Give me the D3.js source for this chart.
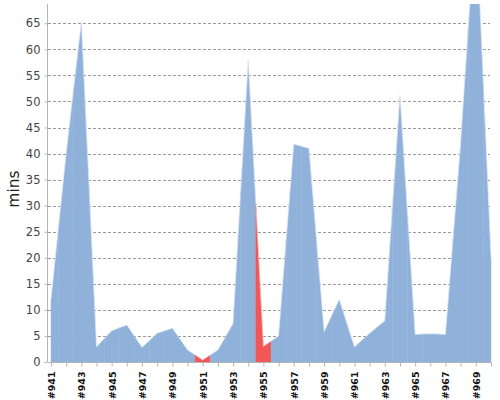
<!DOCTYPE html>
<html>
<head>
<meta charset="utf-8">
<script src="https://cdn.jsdelivr.net/npm/d3@7"></script>
<style>
  html, body { margin: 0; padding: 0; background: #fff; }
  svg { display: block; }
</style>
</head>
<body>
<svg id="chart" width="500" height="400"></svg>
<script>
const builds = ["#941","#942","#943","#944","#945","#946","#947","#948","#949","#950",
                "#951","#952","#953","#954","#955","#956","#957","#958","#959","#960",
                "#961","#962","#963","#964","#965","#966","#967","#968","#969","#970"];
const minutes = [12, 40, 65.3, 2.9, 6.0, 7.1, 2.8, 5.5, 6.5, 2.3,
                 0.4, 2.3, 7.4, 57.9, 3.0, 5.0, 41.8, 41.0, 5.8, 12.0,
                 2.9, 5.5, 7.9, 51.2, 5.3, 5.4, 5.3, 42, 86, 20];
const status = ["ok","ok","ok","ok","ok","ok","ok","ok","ok","ok",
                "fail","ok","ok","ok","fail","ok","ok","ok","ok","ok",
                "ok","ok","ok","ok","ok","ok","ok","ok","ok","ok"];
const yTicks = [0,5,10,15,20,25,30,35,40,45,50,55,60,65];
const labeledBuilds = builds.filter((d, i) => i % 2 === 0);

(function () {
const colors = { ok: "#8fb1da", fail: "#f25656" };

const svg = d3.select("#chart");
const mLeft = 48, mTop = 4, mBottom = 362, mRight = 491;

const x = d3.scalePoint().domain(builds).range([51, mRight]);
const y = d3.scaleLinear().domain([0, 68.7]).range([mBottom, mTop]);

svg.append("defs").append("clipPath").attr("id", "clip")
  .append("rect").attr("x", mLeft).attr("y", mTop).attr("width", 500 - mLeft).attr("height", mBottom - mTop);

// gridlines
svg.append("g").selectAll("line").data(yTicks.filter(t => t > 0)).join("line")
  .attr("x1", mLeft).attr("x2", 490)
  .attr("y1", d => Math.round(y(d)) + 0.5).attr("y2", d => Math.round(y(d)) + 0.5)
  .attr("stroke", "#9a9a9a").attr("stroke-width", 1).attr("stroke-dasharray", "3,2");

// area segments colored per point (split at midpoints)
const pts = builds.map((b, i) => ({ x: x(b), v: minutes[i], s: status[i] }));
const segs = pts.map((p, i) => {
  const arr = [];
  if (i > 0) arr.push({ x: (pts[i-1].x + p.x) / 2, v: (pts[i-1].v + p.v) / 2 });
  arr.push({ x: p.x, v: p.v });
  if (i < pts.length - 1) arr.push({ x: (pts[i+1].x + p.x) / 2, v: (pts[i+1].v + p.v) / 2 });
  return { s: p.s, arr };
});
const area = d3.area().x(d => d.x).y0(y(0)).y1(d => y(d.v));
const g = svg.append("g").attr("clip-path", "url(#clip)");
g.selectAll("path.seg").data(segs).join("path")
  .attr("class", "seg")
  .attr("d", d => area(d.arr))
  .attr("fill", d => colors[d.s])
  .attr("stroke", d => colors[d.s])
  .attr("stroke-width", 0.4);
g.append("path")
  .attr("d", d3.line().x(d => d.x).y(d => y(d.v))(pts))
  .attr("fill", "none").attr("stroke", "#fff").attr("stroke-opacity", 0.45).attr("stroke-width", 1);

// y axis
const yAxis = svg.append("g").attr("transform", `translate(${mLeft - 0.5},0)`)
  .call(d3.axisLeft(y).tickValues(yTicks).tickSize(3).tickPadding(4).tickSizeOuter(0));
yAxis.select(".domain").attr("stroke", "#b5b5b5").attr("d", `M0,${mTop}V${mBottom}`);
yAxis.selectAll(".tick line").attr("stroke", "#b5b5b5");
yAxis.selectAll(".tick text").attr("fill", "#444").style("font-family", "DejaVu Sans, Verdana, sans-serif").style("font-size", "11.5px");

// x axis
const xAxis = svg.append("g").attr("transform", `translate(0,${mBottom + 0.5})`)
  .call(d3.axisBottom(x).tickSize(4).tickSizeOuter(0).tickFormat(d => labeledBuilds.includes(d) ? d : ""));
xAxis.select(".domain").attr("stroke", "#b5b5b5").attr("d", `M${mLeft},0H${mRight}`);
xAxis.selectAll(".tick line").attr("stroke", "#b5b5b5");
xAxis.selectAll(".tick text")
  .attr("transform", "rotate(-90)")
  .attr("text-anchor", "end")
  .attr("x", -9).attr("y", 0).attr("dy", "0.35em")
  .attr("fill", "#111")
  .style("font-family", "DejaVu Sans, Verdana, sans-serif")
  .style("font-size", "9.5px").style("font-weight", "bold");

// y label
svg.append("text")
  .attr("transform", `translate(19,${(mTop + mBottom) / 2 + 6}) rotate(-90)`)
  .attr("text-anchor", "middle")
  .attr("fill", "#222")
  .style("font-family", "DejaVu Sans, Verdana, sans-serif")
  .style("font-size", "15.5px")
  .text("mins");
})();
</script>
</body>
</html>
